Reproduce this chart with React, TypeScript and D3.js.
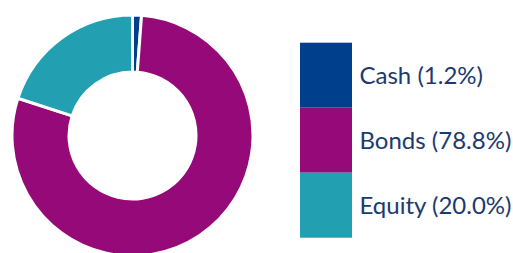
import React from "react";
import * as d3 from "d3";

const categories = ["Cash", "Bonds", "Equity"];
const values = [1.2, 78.8, 20.0];
const colors = ["#003f8c", "#950a78", "#229fb1"];

export default function App() {
  const W = 513, H = 253;
  const cx = 132.5, cy = 135.5;
  const outer = 120.5, inner = 63.5;
  const pie = d3.pie<number>().sort(null).value((d) => d)(values);
  const arc = d3.arc<d3.PieArcDatum<number>>().innerRadius(inner).outerRadius(outer);
  const y = d3.scaleBand<string>().domain(categories).range([42.7, 237.7]).padding(0);
  return (
    <svg width={W} height={H} style={{ position: "absolute", left: 0, top: 0 }}>
      <g transform={`translate(${cx},${cy})`}>
        {pie.map((p, i) => (
          <path key={i} d={arc(p) || ""} fill={colors[i]} stroke="#fff" strokeWidth={3} strokeLinejoin="miter" />
        ))}
      </g>
      {categories.map((c, i) => (
        <g key={c}>
          <rect x={300} y={y(c)} width={52} height={y.bandwidth()} fill={colors[i]} />
          <text x={359.5} y={(y(c) as number) + y.bandwidth() / 2 + 9} fontFamily="Lato" fontSize={24} fill="#1b3a70">
            {`${c} (${values[i].toFixed(1)}%)`}
          </text>
        </g>
      ))}
    </svg>
  );
}
